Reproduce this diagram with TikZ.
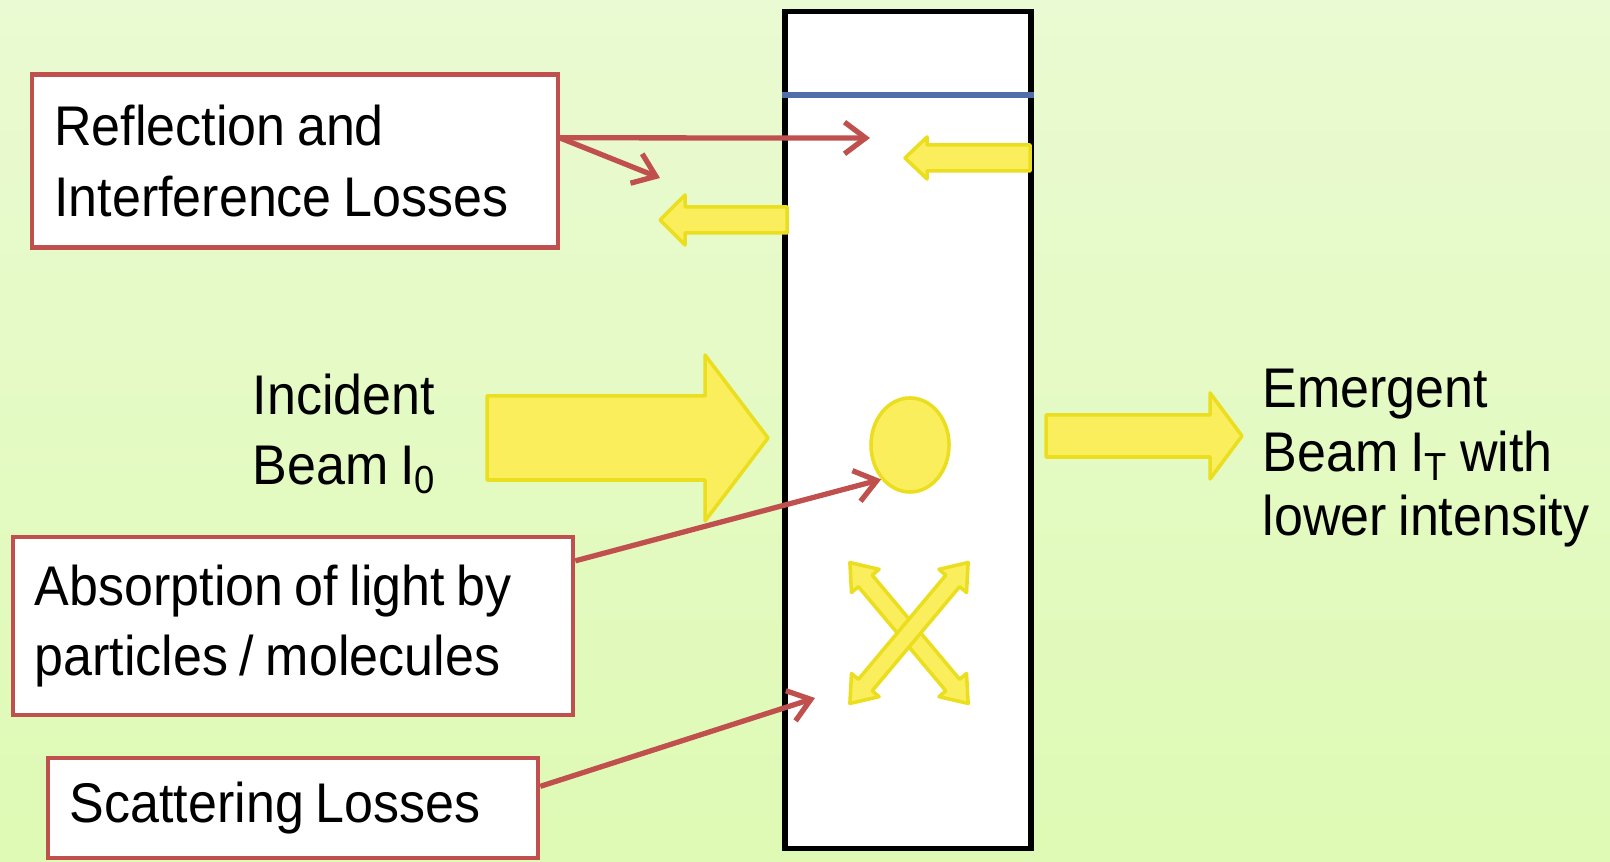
\documentclass[tikz,border=0pt]{standalone}
\usepackage{fontspec}
\setmainfont{Liberation Sans}[FakeStretch=0.93, WordSpace=0.8]
\usetikzlibrary{shapes, arrows.meta, positioning}

\definecolor{bgtop}{RGB}{234,250,210}
\definecolor{bgbottom}{RGB}{222,250,180}
\definecolor{lossred}{RGB}{192,80,77}
\definecolor{beamyellow}{RGB}{250,238,92}
\definecolor{beamedge}{RGB}{234,222,30}
\definecolor{filmblue}{RGB}{79,110,170}

\tikzset{
  pics/beamarrow/.style args={#1/#2/#3/#4}{code={
    \path[beam] (0,-#2) -- ({#1-#4},-#2) -- ({#1-#4},-#3) -- (#1,0) -- ({#1-#4},#3) -- ({#1-#4},#2) -- (0,#2) -- cycle;}},
  pics/scatterarrow/.style args={#1/#2/#3/#4}{code={
    \path[beam] (-#1,0) -- ({-#1+#4},-#3) -- ({-#1+#4},-#2) -- ({#1-#4},-#2) -- ({#1-#4},-#3) -- (#1,0)
      -- ({#1-#4},#3) -- ({#1-#4},#2) -- ({-#1+#4},#2) -- ({-#1+#4},#3) -- cycle;}}
}

\begin{document}
\begin{tikzpicture}[x=0.01cm, y=-0.01cm, font=\fontsize{15.9}{20}\selectfont]
  \tikzstyle{loss} = [rectangle, draw=lossred, line width=1.2pt, fill=white, inner xsep=0.22cm, align=flush left]
  \tikzstyle{beamtext} = [inner sep=0pt, align=left, anchor=north west]
  \tikzstyle{beam} = [fill=beamyellow, draw=beamedge, line width=1pt, line join=round]
  \tikzstyle{connector} = [draw=lossred, line width=1.5pt, -{Straight Barb[length=6pt, width=9pt]}]
  \useasboundingbox (0,0) rectangle (1610,862);
  \shade[top color=bgtop, bottom color=bgbottom] (0,0) rectangle (1610,862);
  % sample cell
  \node [draw, line width=1.5pt, fill=white, minimum width=2.46cm, minimum height=8.36cm, inner sep=0pt] (cuvette) at (908,430) {};
  \draw [filmblue, line width=1.5pt] (cuvette.west |- 0,95) -- (cuvette.east |- 0,95);
  % beams
  \pic at (487,438) {beamarrow=281/42/83/63};
  \pic at (1046,436) {beamarrow=196/21/43/32};
  \pic [rotate=180] at (787,220) {beamarrow=127/13/25/25};
  \pic [rotate=180] at (1030,158) {beamarrow=125/13/21/22};
  \pic [rotate=-50] at (909,633) {scatterarrow=92/9/18/24};
  \pic [rotate=50] at (909,633) {scatterarrow=92/9/18/24};
  \node [beam, ellipse, minimum width=0.78cm, minimum height=0.94cm] (particle) at (910,445) {};
  % losses
  \node [loss, minimum width=5.25cm, minimum height=1.73cm, text width=4.81cm] (reflect) at (295,161) {Reflection and\\Interference Losses};
  \node [loss, minimum width=5.60cm, minimum height=1.78cm, text width=5.16cm] (absorb) at (293,626) {Absorption of light by\\particles / molecules};
  \node [loss, minimum width=4.90cm, minimum height=1.00cm, text width=4.46cm] (scatter) at (293,808) {Scattering Losses};
  \coordinate (reflTip) at (870,138);
  \coordinate (reflTipLow) at (660,178);
  \coordinate (scatterTip) at (815,698);
  \path [connector] (reflect.5) -- (reflTip);
  \path [connector] (reflect.5) -- (reflTipLow);
  \path [connector] (absorb.13) -- (particle.230);
  \path [connector] (scatter.5) -- (scatterTip);
  % beam labels
  \node [beamtext] (incident) at (252,373) {Incident\\Beam I\textsubscript{0}};
  \node [beamtext, font=\fontsize{15.9}{18.2}\selectfont] (emergent) at (1262,368) {Emergent\\Beam I\textsubscript{T} with\\lower intensity};
\end{tikzpicture}
\end{document}
